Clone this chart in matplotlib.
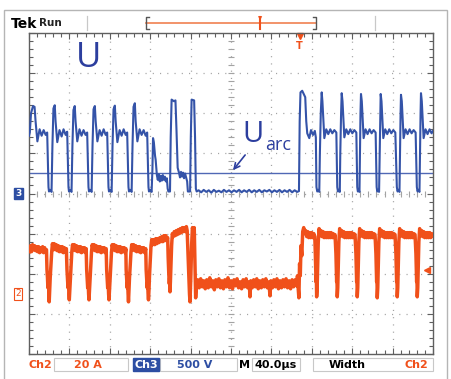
import matplotlib
matplotlib.use("Agg")
import matplotlib.pyplot as plt
import matplotlib.transforms as mtransforms
from matplotlib.lines import Line2D
from matplotlib.patches import Rectangle
import numpy as np

# ---------------- data ----------------
time_per_div = 40.0      # us / div
volts_per_div = 500.0    # Ch3, V / div
amps_per_div = 20.0      # Ch2, A / div
ch3_offset_div = 0.0
ch2_offset_div = -2.5
u_arc = 250.0            # V, arc-voltage reference line
trigger_time = 268.0     # us
trigger_level = 12.0     # A

# Ch3 : voltage U  (time in us, value in V)
blue_points = [
    (0, 720), (0.8, 760), (2.0, 1000), (4.0, 1090), (5.5, 1080), (6.5, 900), (8.3, 650), (10.5, 800), (12.5, 720),
    (14.5, 790), (16.5, 730), (18.0, 760), (19.3, 80), (19.8, 25), (21.0, 45), (22.3, 20),
    (23.2, 600), (24.2, 1060), (25.5, 1100), (26.3, 900), (28.0, 640), (30.2, 790), (32.3, 710), (34.2, 800),
    (36.3, 730), (37.8, 770), (39.1, 80), (39.6, 25), (40.8, 45), (42.1, 20),
    (43.0, 600), (44.0, 1040), (45.3, 1090), (46.1, 900), (47.8, 650), (50.0, 800), (52.0, 720), (54.0, 790),
    (56.0, 730), (57.6, 760), (58.9, 80), (59.4, 25), (60.7, 45), (62.0, 20),
    (62.9, 600), (63.9, 1050), (65.2, 1090), (66.0, 900), (67.7, 650), (69.9, 790), (71.9, 720), (73.9, 800),
    (75.9, 730), (77.4, 760), (78.7, 80), (79.2, 25), (80.5, 45), (81.8, 20),
    (82.7, 600), (83.7, 1050), (85.0, 1095), (85.8, 900), (87.5, 640), (89.7, 790), (91.7, 720), (93.7, 800),
    (95.7, 730), (97.2, 760), (98.5, 80), (99.0, 25), (100.3, 45), (101.6, 20),
    (102.5, 600), (103.5, 1080), (104.8, 1125), (105.6, 900), (107.3, 650), (109.5, 800), (111.5, 730),
    (113.5, 790), (115.5, 720), (117.0, 760), (118.3, 80), (118.8, 25), (120.0, 45), (121.4, 20),
    (122.2, 300), (122.8, 690), (123.6, 640), (124.2, 560), (124.8, 470), (125.4, 420), (126.0, 330),
    (126.6, 230), (127.5, 170), (128.5, 240), (129.5, 150), (130.5, 220), (131.5, 160), (132.5, 230),
    (133.5, 170), (134.5, 210), (135.5, 150), (136.5, 190), (137.3, 60), (138.0, 25), (139.6, 25),
    (140.3, 700), (141.2, 1170), (143.5, 1150), (145.0, 1160), (146.0, 800), (147.2, 320), (148.5, 260),
    (149.5, 200), (150.5, 270), (151.5, 210), (152.5, 260), (153.5, 190), (154.5, 250), (155.5, 200),
    (156.6, 150), (157.3, 25), (159.5, 25),
    (160.2, 700), (161.0, 1170), (163.5, 1160), (164.4, 700), (165.2, 60), (166.0, 25),
    (168, 40), (170.5, 15), (173, 45), (175.5, 20), (178, 40), (180.5, 10), (183, 45), (185.5, 20), (188, 35),
    (190.5, 15), (193, 45), (195.5, 20), (198, 40), (200.5, 15), (203, 40), (205.5, 20), (208, 45), (210.5, 15),
    (213, 40), (215.5, 20), (218, 45), (220.5, 15), (223, 40), (225.5, 20), (228, 45), (230.5, 15), (233, 40),
    (235.5, 25), (238, 45), (240.5, 15), (243, 40), (245.5, 20), (248, 45), (250.5, 15), (253, 40), (255.5, 20),
    (258, 45), (260.5, 15), (263, 40), (265.5, 20), (267.3, 30),
    (268.0, 900), (268.8, 1260), (270.5, 1280), (272.0, 1240), (273.5, 1200), (274.5, 900), (275.5, 750),
    (277.5, 690), (279.2, 790), (281.2, 730), (283.0, 780), (284.0, 700), (284.6, 80), (285.4, 25), (286.5, 45),
    (287.4, 20),
    (288.0, 500), (288.9, 1000), (289.8, 1260), (290.5, 1150), (292.4, 690), (294.3, 800), (296.3, 740),
    (298.3, 800), (300.3, 750), (302.3, 790), (304.3, 760), (305.2, 80), (305.9, 25), (306.8, 45), (307.7, 20),
    (308.2, 500), (309.0, 1000), (309.6, 1250), (310.4, 1150), (312.2, 700), (314.1, 800), (316.1, 740),
    (318.1, 800), (320.1, 750), (322.1, 790), (324.1, 760), (325.0, 80), (325.6, 25), (326.4, 45), (327.2, 20),
    (327.7, 500), (328.2, 1000), (328.7, 1240), (329.5, 1150), (331.3, 690), (333.2, 800), (335.2, 740),
    (337.2, 800), (339.2, 750), (341.2, 790), (343.2, 760), (344.2, 80), (344.8, 25), (345.7, 45), (346.6, 20),
    (347.2, 500), (347.8, 1000), (348.2, 1240), (349.0, 1150), (350.8, 690), (352.7, 800), (354.7, 740),
    (356.7, 800), (358.7, 750), (360.7, 790), (362.7, 760), (364.2, 80), (364.9, 25), (365.8, 45), (366.8, 20),
    (367.3, 500), (367.9, 1000), (368.3, 1230), (369.1, 1150), (370.9, 690), (372.8, 800), (374.8, 740),
    (376.8, 800), (378.8, 750), (380.8, 790), (382.8, 760), (384.0, 80), (384.7, 25), (385.6, 45), (386.6, 20),
    (387.1, 500), (387.7, 1000), (388.1, 1250), (388.9, 1150), (390.7, 690), (392.6, 800), (394.6, 740),
    (396.6, 800), (398.6, 750), (400.0, 780),
]

# Ch2 : current (time in us, value in A)
orange_points = [
    (0.5, 21), (1.5, 24), (2.5, 21), (3.5, 24.5), (4.5, 22), (5.5, 24), (6.5, 21.5), (7.5, 23.5), (8.5, 21),
    (9.5, 23.5), (10.5, 20.5), (11.5, 23), (12.5, 21), (13.5, 23.5), (14.5, 20.5), (15.5, 23), (16.5, 21), (17.3, 22),
    (17.8, 12), (18.3, 8), (18.7, 3), (19.2, 7), (19.6, 1), (20.0, -4), (20.5, 2), (21.0, 8), (21.8, 15), (22.5, 21), (23.2, 25),
    (24, 22), (25, 25), (26, 22), (27, 24.5), (28, 21.5), (29, 24), (30, 21), (31, 23.5), (32, 21), (33, 23.5),
    (34, 20.5), (35, 23), (36, 21), (37, 22.5),
    (37.6, 12), (38.1, 7), (38.6, 3), (39.1, 6), (39.5, 0), (39.9, -3), (40.4, 2), (40.9, 8), (41.7, 15), (42.4, 21), (43.1, 24.5),
    (44, 22), (45, 24.5), (46, 21.5), (47, 24), (48, 21), (49, 23.5), (50, 21), (51, 23.5), (52, 20.5), (53, 23),
    (54, 21), (55, 23), (56, 20.5), (56.6, 22.5),
    (57.1, 12), (57.6, 7), (58.1, 3), (58.6, 6), (59.0, 0), (59.4, -3), (59.9, 2), (60.4, 8), (61.2, 15), (61.9, 21), (62.6, 24.5),
    (63.5, 22), (64.5, 24.5), (65.5, 21.5), (66.5, 24), (67.5, 21), (68.5, 23.5), (69.5, 21), (70.5, 23.5),
    (71.5, 20.5), (72.5, 23), (73.5, 21), (74.5, 23), (75.5, 20.5), (76.4, 22.5),
    (76.9, 12), (77.4, 7), (77.9, 3), (78.4, 6), (78.8, 0), (79.2, -3), (79.7, 2), (80.2, 8), (81.0, 15), (81.7, 21), (82.4, 24.5),
    (83.3, 22), (84.3, 24.5), (85.3, 21.5), (86.3, 24), (87.3, 21), (88.3, 23.5), (89.3, 21), (90.3, 23.5),
    (91.3, 20.5), (92.3, 23), (93.3, 21), (94.3, 23), (95.3, 20.5), (95.9, 22.5),
    (96.2, 12), (96.7, 7), (97.2, 3), (97.7, 6), (98.1, 0), (98.5, -4), (99.0, 2), (99.5, 8), (100.3, 15), (101.0, 21), (101.7, 24.5),
    (102.6, 22), (103.6, 24.5), (104.6, 21.5), (105.6, 24), (106.6, 21), (107.6, 23.5), (108.6, 21), (109.6, 23.5),
    (110.6, 20.5), (111.6, 23), (112.6, 21), (113.6, 23), (114.6, 20.5), (115.6, 22.5),
    (116.0, 12), (116.5, 7), (117.0, 3), (117.5, 6), (117.9, 0), (118.3, -3), (118.8, 2), (119.3, 9), (120.1, 17), (120.8, 24), (121.5, 27),
    (122.5, 24.5), (123.5, 27), (124.5, 24.5), (125.5, 27.5), (126.5, 25), (127.5, 27.5), (128.5, 25.5), (129.5, 28),
    (130.5, 26), (131.5, 28.5), (132.5, 26), (133.5, 29), (134.5, 26.5), (135.5, 29), (136.5, 27), (137.3, 28),
    (137.8, 18), (138.4, 10), (138.9, 5), (139.3, 8), (139.6, 1), (140.0, 6), (140.5, 14), (141.2, 24), (141.9, 30),
    (142.8, 28.5), (143.8, 31), (144.8, 29), (145.8, 31.5), (146.8, 29.5), (147.8, 32), (148.8, 30), (149.8, 32.5),
    (150.8, 30.5), (151.8, 33), (152.8, 31), (153.8, 33), (154.8, 31), (155.8, 33.5), (156.6, 31.5),
    (157.4, 20), (158.2, 8), (158.9, 0), (159.4, -4), (160.2, 8), (161.0, 24), (161.8, 33), (162.8, 31), (163.6, 33),
    (164.3, 15), (165.0, -2), (165.8, 5),
    (167.0, 7), (168.5, 3), (170.0, 7.5), (171.5, 3.5), (173.0, 6.5), (174.5, 2.5), (176.0, 7), (177.5, 3), (179.0, 8),
    (180.5, 3.5), (182.0, 6.5), (183.5, 2), (185.0, 7), (186.5, 3.5), (188.0, 7.5), (189.5, 3), (191.0, 6.5),
    (192.5, 2.5), (194.0, 7), (195.5, 3.5), (197.0, 8), (198.5, 3), (200.0, 6.5), (201.5, 2.5), (203.0, 7),
    (204.5, 4), (206.0, 7.5), (207.5, 3), (209.0, 6), (210.5, 2.5), (212.0, 7), (213.5, 3.5), (215.0, 7.5),
    (216.5, 3), (218.0, 6), (218.8, -1.5), (219.6, 6.5), (221.0, 3), (222.5, 7), (224.0, 3.5), (225.5, 7.5),
    (227.0, 2.5), (228.5, 6.5), (230.0, 3), (231.5, 7), (233.0, 3.5), (234.5, 7.5), (236.0, 3), (237.5, 6),
    (238.6, -1), (239.5, 6.5), (241.0, 3), (242.5, 7), (244.0, 3.5), (245.5, 7.5), (247.0, 2.5), (248.5, 6.5),
    (250.0, 3), (251.5, 7), (253.0, 3.5), (254.5, 7.5), (256.0, 3), (257.5, 6.5), (259.0, 2.5), (260.5, 7),
    (262.0, 3.5), (263.5, 7), (265.0, 4),
    (265.8, 9), (266.5, 3), (267.2, -2), (267.9, 15), (268.6, 9), (269.3, 24), (270.1, 19), (271.0, 31), (272.0, 33), (273.0, 30),
    (274.0, 31.5), (275.0, 28.5), (276.0, 31), (277.0, 28), (278.0, 30.5), (279.0, 28), (280.0, 30.5), (281.0, 28),
    (282.0, 30), (283.0, 28.5),
    (283.5, 20), (283.9, 11), (284.2, 6), (284.5, 9), (284.8, -1.5), (285.3, 3), (285.8, 14), (286.4, 26), (287.2, 32.5),
    (288.2, 29), (289.2, 31.5), (290.2, 28.5), (291.2, 31), (292.2, 28), (293.2, 30.5), (294.2, 28), (295.2, 30.5),
    (296.2, 28), (297.2, 30.5), (298.2, 28), (299.2, 30.5), (300.2, 28), (301.2, 30), (302.2, 28), (303.0, 29.5),
    (303.9, 20), (304.3, 11), (304.6, 6), (304.9, 9), (305.2, -1.5), (305.7, 3), (306.2, 14), (306.8, 26), (307.6, 32.5),
    (308.6, 29), (309.6, 31.5), (310.6, 28.5), (311.6, 31), (312.6, 28), (313.6, 30.5), (314.6, 28), (315.6, 30.5),
    (316.6, 28), (317.6, 30.5), (318.6, 28), (319.6, 30.5), (320.6, 28), (321.6, 30), (322.8, 29.5),
    (323.7, 20), (324.1, 11), (324.4, 6), (324.7, 9), (325.0, -1.5), (325.5, 3), (326.0, 14), (326.6, 26), (327.4, 32.5),
    (328.4, 29), (329.4, 31.5), (330.4, 28.5), (331.4, 31), (332.4, 28), (333.4, 30.5), (334.4, 28), (335.4, 30.5),
    (336.4, 28), (337.4, 30.5), (338.4, 28), (339.4, 30.5), (340.4, 28), (341.4, 30), (342.6, 29.5),
    (343.5, 20), (343.9, 11), (344.2, 6), (344.5, 9), (344.8, -2), (345.3, 3), (345.8, 14), (346.4, 26), (347.2, 32.5),
    (348.2, 29), (349.2, 31.5), (350.2, 28.5), (351.2, 31), (352.2, 28), (353.2, 30.5), (354.2, 28), (355.2, 30.5),
    (356.2, 28), (357.2, 30.5), (358.2, 28), (359.2, 30.5), (360.2, 28), (361.2, 30), (362.4, 29.5),
    (363.3, 20), (363.7, 11), (364.0, 6), (364.3, 9), (364.6, -1.5), (365.1, 3), (365.6, 14), (366.2, 26), (367.0, 32.5),
    (368.0, 29), (369.0, 31.5), (370.0, 28.5), (371.0, 31), (372.0, 28), (373.0, 30.5), (374.0, 28), (375.0, 30.5),
    (376.0, 28), (377.0, 30.5), (378.0, 28), (379.0, 30.5), (380.0, 28), (381.0, 30), (382.2, 29.5),
    (383.1, 20), (383.5, 11), (383.8, 6), (384.1, 9), (384.4, -1.5), (384.9, 3), (385.4, 14), (386.0, 26), (386.8, 32.5),
    (387.8, 29), (388.8, 31.5), (389.8, 28.5), (390.8, 31), (391.8, 28), (392.8, 30.5), (393.8, 28), (394.8, 30.5),
    (395.8, 28), (396.8, 30.5), (397.8, 28), (398.8, 30), (400.0, 29),
]

blue_t, blue_v = zip(*blue_points)
orange_t, orange_i = zip(*orange_points)

status_labels = ["Ch2", "20 A", "Ch3", "500 V", "M", "40.0\u03bcs", "Width", "Ch2"]

# ---------------- style ----------------
BLUE = "#3453a8"
TEXT_BLUE = "#2c3e9e"
ORANGE = "#f0501a"
GRID = "#a3a3a3"
FRAME = "#5f5f5f"

W, H = 452, 379
fig = plt.figure(figsize=(W / 100, H / 100), dpi=100)
fig.patch.set_facecolor("white")


def fx(px):
    return px / W


def fy(py):
    return 1 - py / H


L, R, T, B = 29, 433, 33, 354
ax = fig.add_axes([fx(L), fy(B), fx(R) - fx(L), fy(T) - fy(B)])
ndiv_x, ndiv_y = 10, 8
ax.set_xlim(0, ndiv_x * time_per_div)
ax.set_ylim((-ndiv_y / 2 - ch3_offset_div) * volts_per_div, (ndiv_y / 2 - ch3_offset_div) * volts_per_div)
ax2 = ax.twinx()
ax2.set_ylim((-ndiv_y / 2 - ch2_offset_div) * amps_per_div, (ndiv_y / 2 - ch2_offset_div) * amps_per_div)

for s in ax.spines.values():
    s.set_color(FRAME)
    s.set_linewidth(1.0)
for s in ax2.spines.values():
    s.set_visible(False)
ax2.set_yticks([])

ax.set_xticks(np.arange(0, 401, time_per_div))
ax.set_xticks(np.arange(0, 401, time_per_div / 5), minor=True)
ax.set_yticks(np.arange(-2000, 2001, volts_per_div))
ax.set_yticks(np.arange(-2000, 2001, volts_per_div / 5), minor=True)
ax.tick_params(which="both", direction="in", top=True, bottom=True, left=True, right=True,
               labelbottom=False, labelleft=False, color=FRAME, width=0.8)
ax.tick_params(which="major", length=4)
ax.tick_params(which="minor", length=3)

# dotted graticule
for k in range(1, ndiv_x):
    ax.axvline(k * time_per_div, color=GRID, lw=0.9, dashes=(0.9, 4.9), zorder=1)
for k in range(1, ndiv_y):
    ax.axhline((k - ndiv_y / 2) * volts_per_div, color=GRID, lw=0.9, dashes=(0.9, 4.9), zorder=1)
# centre cross ticks
cx = ndiv_x / 2 * time_per_div
ax.plot(np.arange(0, 401, time_per_div / 5), np.zeros(51), ls="none", marker="|", ms=4,
        mew=0.8, color=GRID, zorder=1)
ax.plot(np.full(41, cx), np.arange(-2000, 2001, volts_per_div / 5), ls="none", marker="_", ms=4,
        mew=0.8, color=GRID, zorder=1)

# U_arc line
ax.axhline(u_arc, color="#5068b5", lw=1.0, zorder=2)

# traces
ax.plot(blue_t, blue_v, color=BLUE, lw=1.5, zorder=3, solid_joinstyle="round")
ax2.plot(orange_t, orange_i, color=ORANGE, lw=2.5, zorder=3, solid_joinstyle="round")
ax2.plot([trigger_time + 126], [trigger_level], ls="none", marker="<", ms=4, color=ORANGE)

# annotations
ax.text(59.4, 1580, "U", fontsize=25, color=TEXT_BLUE, ha="center", va="baseline", family="Open Sans")
ax.text(221.3, 642, "U", fontsize=21, color=TEXT_BLUE, ha="center", va="baseline", family="Open Sans")
ax.text(233.6, 542, "arc", fontsize=13, color=TEXT_BLUE, ha="left", va="baseline", family="Open Sans")
ax.annotate("", xy=(202, 290), xytext=(214, 480),
            arrowprops=dict(arrowstyle="->", color=TEXT_BLUE, lw=1.2, shrinkA=0, shrinkB=0))

# ground markers
tr3 = mtransforms.blended_transform_factory(ax.transAxes, ax.transData)
ax.text(-0.027, ch3_offset_div * volts_per_div, "3", transform=tr3, ha="center", va="center", fontsize=6.5,
        color="white", fontweight="bold",
        bbox=dict(boxstyle="square,pad=0.15", fc="#2d4ea3", ec="#2d4ea3"), clip_on=False)
tr2 = mtransforms.blended_transform_factory(ax2.transAxes, ax2.transData)
ax2.text(-0.027, 0, "2", transform=tr2, ha="center", va="center", fontsize=6.5,
         color=ORANGE, bbox=dict(boxstyle="square,pad=0.15", fc="white", ec=ORANGE, lw=0.8), clip_on=False)

# trigger position marker at top
trT = mtransforms.blended_transform_factory(ax.transData, ax.transAxes)
ax.plot([trigger_time], [0.99], transform=trT, marker="v", ms=5, color=ORANGE, clip_on=False)
ax.text(trigger_time, 0.975, "T", transform=trT, ha="center", va="top", fontsize=7, color=ORANGE,
        fontweight="bold")

# ---------------- frame decorations ----------------
fig.add_artist(Rectangle((fx(4), fy(381)), fx(447) - fx(4), fy(10) - fy(381), fill=False,
                         ec="#b5b5b5", lw=1.0, transform=fig.transFigure))
fig.text(fx(11), fy(24), "Tek", fontsize=10, fontweight="bold", color="black", va="center", ha="left")
fig.text(fx(39), fy(23), "Run", fontsize=7.5, fontweight="bold", color="#222", va="center", ha="left")
for xx in (87, 375):
    fig.add_artist(Line2D([fx(xx), fx(xx)], [fy(16), fy(30)], color="#c8c8c8", lw=0.9))
fig.add_artist(Line2D([fx(146), fx(316)], [fy(23), fy(23)], color="#f08050", lw=1.2))
for xx, d in ((146, 3), (316, -3)):
    fig.add_artist(Line2D([fx(xx + d), fx(xx), fx(xx), fx(xx + d)], [fy(17), fy(17), fy(29), fy(29)],
                          color="#555", lw=1.0))
fig.add_artist(Line2D([fx(260), fx(260)], [fy(17), fy(29)], color=ORANGE, lw=1.5))
fig.text(fx(260), fy(19), "\u25bc", fontsize=4, color=ORANGE, ha="center", va="center")

# status bar
for x0, x1 in ((54, 128), (160, 237), (252, 300), (313, 433)):
    fig.add_artist(Rectangle((fx(x0), fy(371)), fx(x1) - fx(x0), fy(358) - fy(371), fill=False,
                             ec="#c8c8c8", lw=0.8, transform=fig.transFigure))
status_x = [40, 88, 146, 195, 245, 276, 347, 416]
status_col = [ORANGE, ORANGE, "white", "#2d4ea3", "black", "black", "black", ORANGE]
for lab, xx, c in zip(status_labels, status_x, status_col):
    kw = {}
    if lab == "Ch3":
        kw["bbox"] = dict(boxstyle="square,pad=0.12", fc="#2d4ea3", ec="#2d4ea3")
    fig.text(fx(xx), fy(364.5), lab, fontsize=8, fontweight="bold", color=c, ha="center", va="center", **kw)

fig.savefig("out.png", dpi=100)
